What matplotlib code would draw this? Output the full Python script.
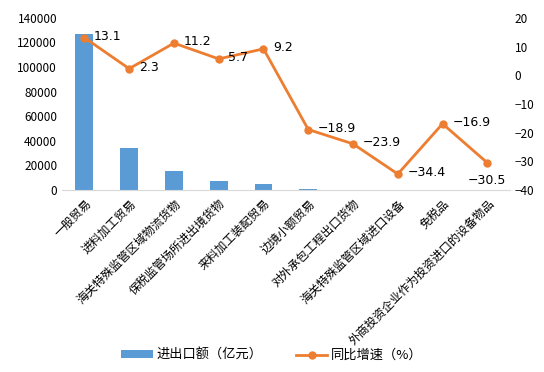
import matplotlib
matplotlib.use('agg')
import matplotlib.pyplot as plt

plt.rcParams['font.family'] = ['Noto Sans CJK SC', 'DejaVu Sans']

categories = ["一般贸易", "进料加工贸易", "海关特殊监管区域物流货物", "保税监管场所进出境货物",
              "来料加工装配贸易", "边境小额贸易", "对外承包工程出口货物",
              "海关特殊监管区域进口设备", "免税品", "外商投资企业作为投资进口的设备物品"]
amount = [127000, 34000, 15500, 7000, 4600, 1000, 150, 60, 40, 20]
growth = [13.1, 2.3, 11.2, 5.7, 9.2, -18.9, -23.9, -34.4, -16.9, -30.5]

blue = "#5B9BD5"
orange = "#ED7D31"

fig = plt.figure(figsize=(5.44, 3.72), dpi=100)
ax = fig.add_axes([0.114, 0.489, 0.823, 0.463])
x = list(range(len(categories)))
ax.bar(x, amount, width=0.4, color=blue, label="进出口额（亿元）", zorder=2)
ax.set_xlim(-0.5, len(categories) - 0.5)
ax.set_ylim(0, 140000)
ax.set_yticks(range(0, 140001, 20000))
ax.set_xticks(x)
ax.set_xticklabels(categories, rotation=45, ha='right', rotation_mode='anchor', fontsize=8.5)
ax.tick_params(axis='both', length=0, labelsize=8.5)
ax.tick_params(axis='x', pad=5)
for s in ['top', 'right', 'left']:
    ax.spines[s].set_visible(False)
ax.spines['bottom'].set_color('#d9d9d9')

ax2 = ax.twinx()
ax2.plot(x, growth, color=orange, lw=2, marker='o', markersize=5, label="同比增速（%）", zorder=3)
ax2.set_ylim(-40, 20)
ax2.set_yticks(range(-40, 21, 10))
ax2.set_yticklabels([str(t).replace('-', '\u2212') for t in range(-40, 21, 10)])
ax2.tick_params(axis='y', length=0, labelsize=8.5)
for s in ['top', 'right', 'left', 'bottom']:
    ax2.spines[s].set_visible(False)

for i, v in enumerate(growth):
    txt = f"{v}".replace('-', '\u2212')
    if i == len(growth) - 1:
        ax2.annotate(txt, (i, v), xytext=(0, -8), textcoords='offset points',
                     ha='center', va='top', fontsize=9, family='DejaVu Sans')
    else:
        ax2.annotate(txt, (i, v), xytext=(7, 1), textcoords='offset points',
                     ha='left', va='center', fontsize=9, family='DejaVu Sans')

h1, l1 = ax.get_legend_handles_labels()
h2, l2 = ax2.get_legend_handles_labels()
fig.legend(h1 + h2, l1 + l2, loc='center', bbox_to_anchor=(0.5, 0.045), ncol=2,
           frameon=False, fontsize=9.5, handlelength=2.4, handleheight=0.5,
           handletextpad=0.3, columnspacing=2.5)

fig.savefig('out.png', dpi=100)
